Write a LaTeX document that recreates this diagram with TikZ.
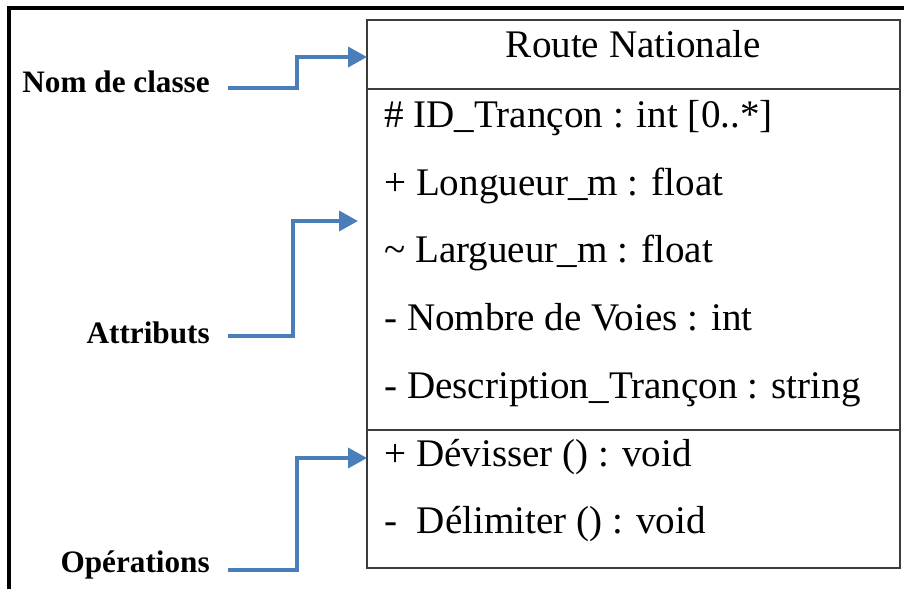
\documentclass[tikz,border=0pt]{standalone}
\usepackage{fontspec}
\setmainfont{Liberation Serif}
\usetikzlibrary{arrows.meta}
\definecolor{arrowblue}{RGB}{74,126,187}
\definecolor{boxgray}{RGB}{60,60,60}

\begin{document}
\begin{tikzpicture}[x=0.025cm,y=-0.025cm,
    compart/.style={draw=boxgray,line width=1.4pt,rectangle,minimum width=533*0.025cm,inner sep=0pt},
    member/.style={anchor=base west,inner sep=0pt,font=\fontsize{27.8}{32}\selectfont},
    legend/.style={anchor=base east,inner sep=0pt,font=\fontsize{22.2}{26}\selectfont\bfseries},
    pointer/.style={arrowblue,line width=2.6pt,-{Triangle[length=19*0.025cm,width=20*0.025cm]}}]
    \clip(0,0) rectangle (904,588);
    \draw[line width=2.2pt](9,8)--(920,8)--(920,600)--(9,600)--cycle;

    % class box
    \node[compart,minimum height=69*0.025cm] (titre) at (633.5,54.5) {};
    \node[compart,minimum height=341*0.025cm] (attributs) at (633.5,259.5) {};
    \node[compart,minimum height=138*0.025cm] (operations) at (633.5,499) {};

    \node[member,anchor=base] (nom) at (633.5,57) {Route Nationale};
    \node[member] (a1) at (384,127) {\# ID\_Trançon : int [0..*]};
    \node[member] (a2) at (384,195) {+ Longueur\_m : float};
    \node[member] (a3) at (384,262) {\textasciitilde{} Largueur\_m : float};
    \node[member] (a4) at (384,330) {- Nombre de Voies : int};
    \node[member] (a5) at (384,398) {- Description\_Trançon : string};
    \node[member] (o1) at (384,466) {+ Dévisser () : void};
    \node[member] (o2) at (384,533) {-\ \ Délimiter () : void};

    % legends
    \node[legend] (lnom) at (210,92) {Nom de classe};
    \node[legend] (lattr) at (210,343) {Attributs};
    \node[legend] (lop) at (210,572) {Opérations};

    \coordinate (snom) at (228,88);
    \coordinate (sattr) at (228,336);
    \coordinate (sop) at (228,570);
    \coordinate (tnom) at (367,57);
    \coordinate (tattr) at (358,221);
    \coordinate (top) at (367,458);

    \draw[pointer](snom)-|(297,57)--(tnom);
    \draw[pointer](sattr)-|(293,221)--(tattr);
    \draw[pointer](sop)-|(297,458)--(top);
\end{tikzpicture}
\end{document}
